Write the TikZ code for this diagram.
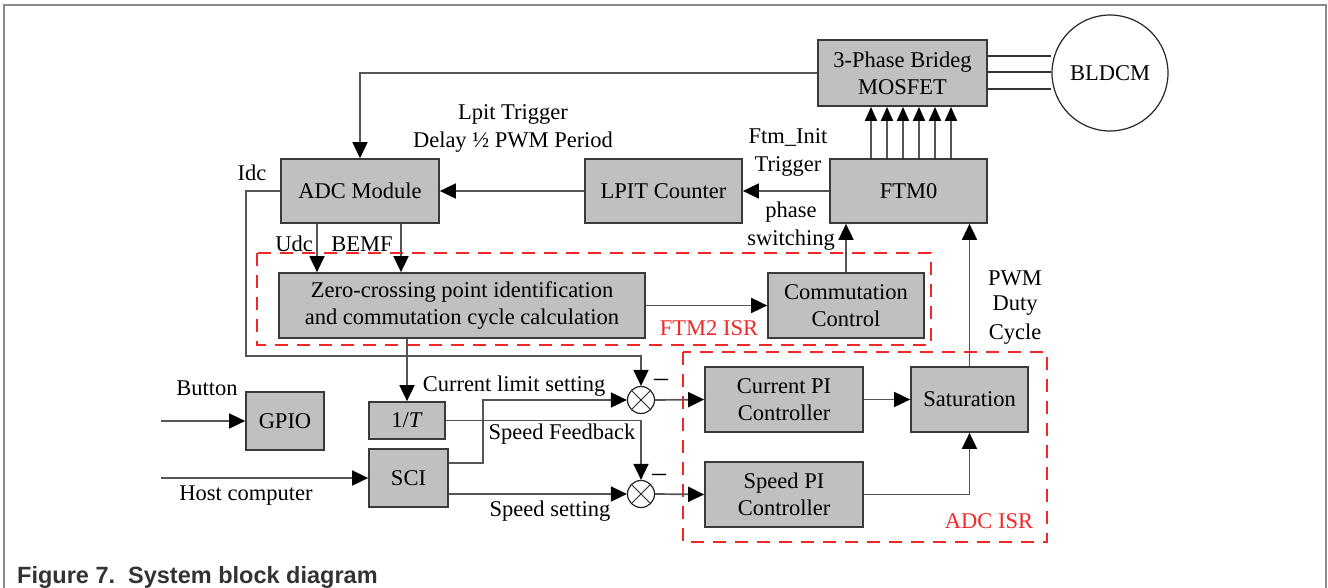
\documentclass[tikz,border=0pt]{standalone}
\usepackage{fontspec}
\setmainfont{Liberation Serif}
\newfontfamily\capfont{Liberation Sans}
\usetikzlibrary{arrows.meta}
\definecolor{boxfill}{HTML}{C0C0C0}
\definecolor{boxline}{HTML}{3A3A3A}
\definecolor{lin}{HTML}{555555}
\definecolor{isred}{HTML}{F02828}
\definecolor{framec}{HTML}{8A8A8A}
\definecolor{capc}{HTML}{333333}
\begin{document}
\begin{tikzpicture}[x=1pt,y=-1pt,
  font=\fontsize{22.5}{27}\selectfont,
  blk/.style={draw=boxline, fill=boxfill, line width=1.7pt, inner sep=0pt, align=center, text=black},
  con/.style={draw=lin, line width=1.7pt},
  arr/.style={con, -{Triangle[length=16pt,width=15pt,color=black]}},
  isr/.style={draw=isred, line width=1.8pt, dash pattern=on 13pt off 9pt},
  lbl/.style={text=black, inner sep=0pt, align=center},
  redlbl/.style={text=isred, inner sep=0pt},
  sumj/.style={circle, draw=black!85, line width=1.2pt, minimum size=27pt, inner sep=0pt,
    path picture={\draw[line width=1pt, black!85]
      (path picture bounding box.north west) -- (path picture bounding box.south east)
      (path picture bounding box.north east) -- (path picture bounding box.south west);}},
  frm/.style={draw=framec, line width=1.4pt}]
\useasboundingbox (0,0) rectangle (1328,588);
\draw[frm] (4,588) -- (4,5) -- (1326,5) -- (1326,588);

% blocks
\node[blk, minimum width=169pt, minimum height=66pt] (bridge) at (902.5,73) {3-Phase Brideg\\MOSFET};
\node[circle, draw=black!85, line width=1.2pt, minimum size=116pt, inner sep=0pt] (motor) at (1110,73) {BLDCM};
\node[blk, minimum width=157pt, minimum height=64pt] (ftm0) at (908.5,191) {FTM0};
\node[blk, minimum width=157pt, minimum height=64pt] (lpit) at (663.5,191) {LPIT Counter};
\node[blk, minimum width=158pt, minimum height=64pt] (adc) at (360,191) {ADC Module};
\node[blk, minimum width=366pt, minimum height=65pt] (zc) at (462,305.5) {Zero-crossing point identification\\and commutation cycle calculation};
\node[blk, minimum width=156pt, minimum height=65pt] (comm) at (846,305.5) {Commutation\\Control};
\node[blk, minimum width=76pt, minimum height=37pt] (onet) at (407,420.5) {1/\textit{T}};
\node[blk, minimum width=78pt, minimum height=58pt] (gpio) at (285,421) {GPIO};
\node[blk, minimum width=79pt, minimum height=58pt] (sci) at (408.5,478) {SCI};
\node[blk, minimum width=158pt, minimum height=65pt] (cpi) at (784,399.5) {Current PI\\Controller};
\node[blk, minimum width=158pt, minimum height=65pt] (spi) at (784,494.5) {Speed PI\\Controller};
\node[blk, minimum width=117pt, minimum height=65pt] (sat) at (969.5,399.5) {Saturation};
\node[sumj] (sum1) at (641,400) {};
\node[sumj] (sum2) at (641,494) {};

% ISR regions
\draw[isr] (257,253) rectangle (931,345);
\draw[isr] (683,352) rectangle (1047,542);
\node[redlbl] (ftm2lbl) at (709,328) {FTM2 ISR};
\node[redlbl] (adclbl) at (989,521) {ADC ISR};

% helper coordinates
\foreach \i/\x in {1/871,2/887,3/903,4/919,5/935,6/951}
  \coordinate (t\i) at (\x,191);
\coordinate (udcx) at (317,250);
\coordinate (bemfx) at (401,250);
\coordinate (idcx) at (246,356);
\coordinate (scx) at (483,463);
\coordinate (gin) at (161,421);
\coordinate (hin) at (161,478);
\coordinate (m1) at (1000,56);
\coordinate (m2) at (1000,72);
\coordinate (m3) at (1000,89);

% connectors
\foreach \i in {1,...,6}
  \draw[con, -{Triangle[length=14pt,width=12pt,color=black]}] (t\i |- ftm0.north) -- (t\i |- bridge.south);
\foreach \m in {m1,m2,m3}
  \draw[con, line width=1.3pt, draw=black!80] (bridge.east |- \m) -- (\m -| motor.west);
\draw[arr] (bridge.west) -- (adc.north |- bridge.west) -- (adc.north);
\draw[arr] (ftm0.west) -- (lpit.east);
\draw[arr] (lpit.west) -- (adc.east);
\draw[arr] (comm.north) -- (comm.north |- ftm0.south);
\draw[arr] (sat.north) -- (sat.north |- ftm0.south);
\draw[arr] (zc.east) -- (comm.west);
\draw[arr] (udcx |- adc.south) -- (udcx |- zc.north);
\draw[arr] (bemfx |- adc.south) -- (bemfx |- zc.north);
\draw[arr] (onet.north |- zc.south) -- (onet.north);
\draw[arr] (adc.west) -- (idcx |- adc.west) -- (idcx) -- (idcx -| sum1.north) -- (sum1.north);
\draw[arr] (sci.east |- scx) -- (scx) -- (scx |- sum1.west) -- (sum1.west);
\draw[arr] (onet.east) -- (onet.east -| sum2.north) -- (sum2.north);
\draw[arr] (sci.east |- sum2.west) -- (sum2.west);
\draw[arr] (sum1.east) -- (cpi.west);
\draw[arr] (sum2.east) -- (spi.west);
\draw[arr] (cpi.east) -- (sat.west);
\draw[arr] (spi.east) -- (spi.east -| sat.south) -- (sat.south);
\draw[arr] (gin) -- (gpio.west);
\draw[arr] (hin) -- (sci.west);

% labels
\node[lbl] (l1) at (513,114) {Lpit Trigger};
\node[lbl] (l2) at (513,142) {Delay ½ PWM Period};
\node[lbl] (l3) at (788,138) {Ftm\_Init};
\node[lbl] (l4) at (788,166) {Trigger};
\node[lbl] (l5) at (791,212) {phase};
\node[lbl] (l6) at (791,240) {switching};
\node[lbl] (l7) at (252,173) {Idc};
\node[lbl] (l8) at (294,244) {Udc};
\node[lbl] (l9) at (362,244) {BEMF};
\node[lbl] (l10) at (207,388) {Button};
\node[lbl] (l11) at (246,496) {Host computer};
\node[lbl] (l12) at (514,386) {Current limit setting};
\node[lbl] (l13) at (562,434) {Speed Feedback};
\node[lbl] (l14) at (550,511) {Speed setting};
\node[lbl, font=\fontsize{28}{28}\selectfont] (l15) at (661,383) {–};
\node[lbl, font=\fontsize{28}{28}\selectfont] (l16) at (659,478) {–};
\node[lbl] (l17) at (1015,278) {PWM};
\node[lbl] (l18) at (1015,306) {Duty};
\node[lbl] (l19) at (1015,334) {Cycle};

% caption
\node[anchor=base west, inner sep=0pt, text=capc, font=\capfont\bfseries\fontsize{23.5}{28}\selectfont] (cap) at (17,583) {Figure 7.\ \ System block diagram};
\end{tikzpicture}
\end{document}
